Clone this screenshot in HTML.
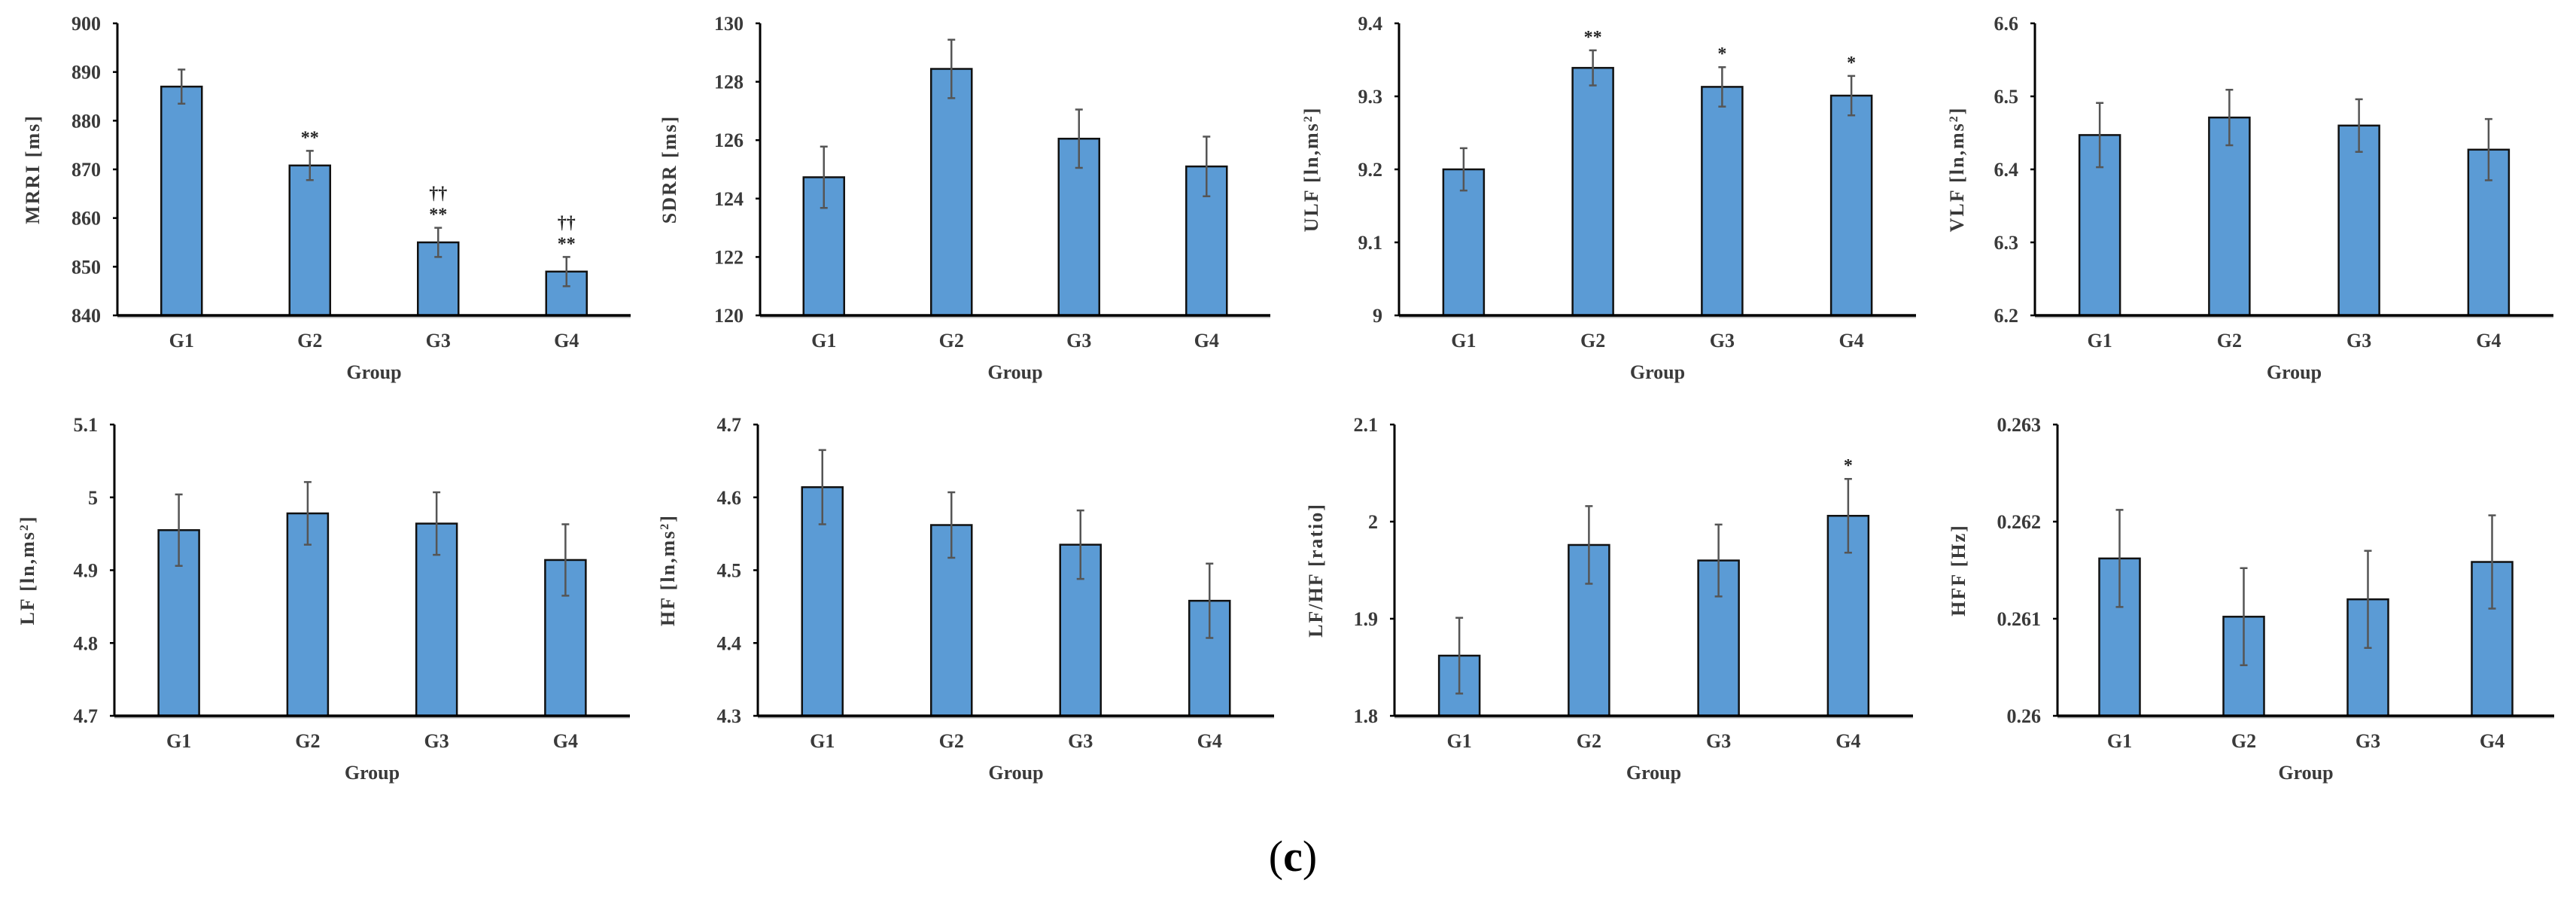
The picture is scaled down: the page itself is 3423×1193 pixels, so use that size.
<!DOCTYPE html>
<html><head><meta charset="utf-8"><style>
html,body{margin:0;padding:0;background:#fff;}
svg{display:block;font-family:"Liberation Serif",serif;}
</style></head><body>
<svg id="fig" width="3423" height="1193" viewBox="0 0 3423 1193">
<text x="1718" y="1157" font-size="58" text-anchor="middle" fill="#000">(<tspan font-weight="bold">c</tspan>)</text>
</svg>
<script>
const categories = ["G1","G2","G3","G4"];
const mrriValues = [887, 870.8, 855, 849];
const mrriErrors = [3.5, 3, 3, 3];
const mrriMarks = ["", "**", "††\n**", "††\n**"];
const mrriTicks = [840, 850, 860, 870, 880, 890, 900];
const sdrrValues = [124.73, 128.44, 126.05, 125.1];
const sdrrErrors = [1.05, 1.0, 1.0, 1.02];
const sdrrMarks = ["", "", "", ""];
const sdrrTicks = [120, 122, 124, 126, 128, 130];
const ulfValues = [9.2, 9.339, 9.313, 9.301];
const ulfErrors = [0.029, 0.024, 0.027, 0.027];
const ulfMarks = ["", "**", "*", "*"];
const ulfTicks = ["9", "9.1", "9.2", "9.3", "9.4"];
const vlfValues = [6.447, 6.471, 6.46, 6.427];
const vlfErrors = [0.044, 0.038, 0.036, 0.042];
const vlfMarks = ["", "", "", ""];
const vlfTicks = ["6.2", "6.3", "6.4", "6.5", "6.6"];
const lfValues = [4.955, 4.978, 4.964, 4.914];
const lfErrors = [0.049, 0.043, 0.043, 0.049];
const lfMarks = ["", "", "", ""];
const lfTicks = ["4.7", "4.8", "4.9", "5", "5.1"];
const hfValues = [4.614, 4.562, 4.535, 4.458];
const hfErrors = [0.051, 0.045, 0.047, 0.051];
const hfMarks = ["", "", "", ""];
const hfTicks = ["4.3", "4.4", "4.5", "4.6", "4.7"];
const ratioValues = [1.862, 1.976, 1.96, 2.006];
const ratioErrors = [0.039, 0.04, 0.037, 0.038];
const ratioMarks = ["", "", "", "*"];
const ratioTicks = ["1.8", "1.9", "2", "2.1"];
const hffValues = [0.261621, 0.261021, 0.2612, 0.261585];
const hffErrors = [0.0005, 0.0005, 0.0005, 0.00048];
const hffMarks = ["", "", "", ""];
const hffTicks = ["0.26", "0.261", "0.262", "0.263"];

const NS = "http://www.w3.org/2000/svg";
const svg = document.getElementById("fig");
function mk(tag, attrs, parent){
  const e = document.createElementNS(NS, tag);
  for (const k in attrs) e.setAttribute(k, attrs[k]);
  parent.appendChild(e);
  return e;
}

function panel(cfg){
  const g = mk("g", {}, svg);
  
  
  const ticks = cfg.ticks.map(Number);
  const lo = ticks[0], hi = ticks[ticks.length-1];
  const yS = v => cfg.bottom - (v - lo) / (hi - lo) * (cfg.bottom - cfg.top);
  const step = (cfg.end - cfg.axis) / categories.length;
  const xS = i => cfg.axis + (i + 0.5) * step;
  const bw = 54;
  // y ticks
  cfg.ticks.forEach((t) => {
    const y = yS(Number(t));
    const tl = mk("text", {x: cfg.axis - 22, y: y + 9, "font-size": 26, "font-weight": "bold", "text-anchor": "end", fill: "#3a3a3a"}, g);
    tl.textContent = t;
    
    
    const tm = mk("line", {x1: cfg.axis - 6, x2: cfg.axis, y1: y, y2: y, stroke: "#000", "stroke-width": 2.5}, g);
    
    
  });
  // bars
  cfg.values.forEach((v, i) => {
    const x = xS(i), y = yS(v);
    const r = mk("rect", {x: x - bw/2, y: y, width: bw, height: cfg.bottom - y, fill: "#5B9BD5", stroke: "#111", "stroke-width": 2.5}, g);
    
    
    const e = cfg.errors[i];
    const yt = yS(v + e), yb = yS(v - e);
    const eb = mk("path", {d: `M${x},${yt}V${yb}M${x-5},${yt}H${x+5}M${x-5},${yb}H${x+5}`, stroke: "#555", "stroke-width": 2.5, fill: "none"}, g);
    
    
    const marks = cfg.marks[i] ? cfg.marks[i].split("\n").reverse() : [];
    marks.forEach((m, k) => {
      const st = mk("text", {x: x, y: yt - 10 - k * 28, "font-size": 24, "font-weight": "bold", "text-anchor": "middle", fill: "#222"}, g);
      st.textContent = m;
      
      
    });
    const xl = mk("text", {x: x, y: cfg.bottom + 42, "font-size": 26, "font-weight": "bold", "text-anchor": "middle", fill: "#3a3a3a"}, g);
    xl.textContent = categories[i];
    
    
  });
  // axes
  const ya = mk("line", {x1: cfg.axis, x2: cfg.axis, y1: cfg.top, y2: cfg.bottom, stroke: "#000", "stroke-width": 3}, g);
  
  
  const xa2 = mk("line", {x1: cfg.axis, x2: cfg.end, y1: cfg.bottom + 2, y2: cfg.bottom + 2, stroke: "#bbb", "stroke-width": 3}, g);
  
  
  const xa = mk("line", {x1: cfg.axis, x2: cfg.end, y1: cfg.bottom, y2: cfg.bottom, stroke: "#000", "stroke-width": 3.5}, g);
  
  
  const xt = mk("text", {x: (cfg.axis + cfg.end) / 2, y: cfg.bottom + 84, "font-size": 26, "font-weight": "bold", "text-anchor": "middle", fill: "#3a3a3a"}, g);
  xt.textContent = "Group";
  
  
  const cy = (cfg.top + cfg.bottom) / 2;
  const yt = mk("text", {x: cfg.axis + cfg.labOff, y: cy, "font-size": 26, "font-weight": "bold", "text-anchor": "middle", fill: "#3a3a3a", "letter-spacing": 2, transform: `rotate(-90 ${cfg.axis + cfg.labOff} ${cy})`}, g);
  yt.innerHTML = cfg.label;
  
  
}

const sup = '<tspan baseline-shift="super" font-size="16">2</tspan>';
panel({name:"mrri", axis:156, end:838, top:31, bottom:419, labOff:-104, values:mrriValues, errors:mrriErrors, marks:mrriMarks, ticks:mrriTicks, label:"MRRI [ms]"});
panel({name:"sdrr", axis:1010, end:1688, top:31, bottom:419, labOff:-112, values:sdrrValues, errors:sdrrErrors, marks:sdrrMarks, ticks:sdrrTicks, label:"SDRR [ms]"});
panel({name:"ulf", axis:1859, end:2546, top:31, bottom:419, labOff:-108, values:ulfValues, errors:ulfErrors, marks:ulfMarks, ticks:ulfTicks, label:"ULF [ln,ms"+sup+"]"});
panel({name:"vlf", axis:2704, end:3393, top:31, bottom:419, labOff:-95, values:vlfValues, errors:vlfErrors, marks:vlfMarks, ticks:vlfTicks, label:"VLF [ln,ms"+sup+"]"});
panel({name:"lf", axis:152, end:837, top:564, bottom:951, labOff:-107, values:lfValues, errors:lfErrors, marks:lfMarks, ticks:lfTicks, label:"LF [ln,ms"+sup+"]"});
panel({name:"hf", axis:1007, end:1693, top:564, bottom:951, labOff:-111, values:hfValues, errors:hfErrors, marks:hfMarks, ticks:hfTicks, label:"HF [ln,ms"+sup+"]"});
panel({name:"lf-hf", axis:1853, end:2542, top:564, bottom:951, labOff:-96, values:ratioValues, errors:ratioErrors, marks:ratioMarks, ticks:ratioTicks, label:"LF/HF [ratio]"});
panel({name:"hff", axis:2734, end:3394, top:564, bottom:951, labOff:-123, values:hffValues, errors:hffErrors, marks:hffMarks, ticks:hffTicks, label:"HFF [Hz]"});
</script>
</body></html>
